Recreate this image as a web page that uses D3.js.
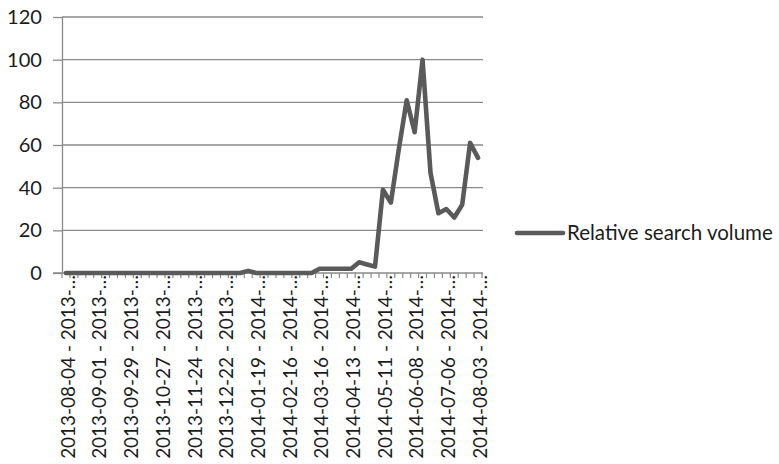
<!DOCTYPE html>
<html>
<head>
<meta charset="utf-8">
<script src="https://cdn.jsdelivr.net/npm/d3@7"></script>
<style>
  html, body { margin: 0; padding: 0; background: #ffffff; }
  svg { display: block; }
  text { font-family: Lato, "Open Sans", sans-serif; fill: #1c1c1c; }
</style>
</head>
<body>
<svg id="chart" width="779" height="464"></svg>
<script>
// Weekly periods (Sunday to Saturday)
const weeks = [
  "2013-08-04 - 2013-08-10", "2013-08-11 - 2013-08-17", "2013-08-18 - 2013-08-24", "2013-08-25 - 2013-08-31",
  "2013-09-01 - 2013-09-07", "2013-09-08 - 2013-09-14", "2013-09-15 - 2013-09-21", "2013-09-22 - 2013-09-28",
  "2013-09-29 - 2013-10-05", "2013-10-06 - 2013-10-12", "2013-10-13 - 2013-10-19", "2013-10-20 - 2013-10-26",
  "2013-10-27 - 2013-11-02", "2013-11-03 - 2013-11-09", "2013-11-10 - 2013-11-16", "2013-11-17 - 2013-11-23",
  "2013-11-24 - 2013-11-30", "2013-12-01 - 2013-12-07", "2013-12-08 - 2013-12-14", "2013-12-15 - 2013-12-21",
  "2013-12-22 - 2013-12-28", "2013-12-29 - 2014-01-04", "2014-01-05 - 2014-01-11", "2014-01-12 - 2014-01-18",
  "2014-01-19 - 2014-01-25", "2014-01-26 - 2014-02-01", "2014-02-02 - 2014-02-08", "2014-02-09 - 2014-02-15",
  "2014-02-16 - 2014-02-22", "2014-02-23 - 2014-03-01", "2014-03-02 - 2014-03-08", "2014-03-09 - 2014-03-15",
  "2014-03-16 - 2014-03-22", "2014-03-23 - 2014-03-29", "2014-03-30 - 2014-04-05", "2014-04-06 - 2014-04-12",
  "2014-04-13 - 2014-04-19", "2014-04-20 - 2014-04-26", "2014-04-27 - 2014-05-03", "2014-05-04 - 2014-05-10",
  "2014-05-11 - 2014-05-17", "2014-05-18 - 2014-05-24", "2014-05-25 - 2014-05-31", "2014-06-01 - 2014-06-07",
  "2014-06-08 - 2014-06-14", "2014-06-15 - 2014-06-21", "2014-06-22 - 2014-06-28", "2014-06-29 - 2014-07-05",
  "2014-07-06 - 2014-07-12", "2014-07-13 - 2014-07-19", "2014-07-20 - 2014-07-26", "2014-07-27 - 2014-08-02",
  "2014-08-03 - 2014-08-09"
];

// Relative search volume per week (peak = 100)
const searchVolume = [
  0, 0, 0, 0, 0, 0, 0, 0, 0, 0, 0, 0, 0, 0, 0, 0,
  0, 0, 0, 0, 0, 0, 0, 1, 0, 0, 0, 0, 0, 0, 0, 0,
  2, 2, 2, 2, 2, 5, 4, 3, 39, 33, 58, 81, 66, 100, 47, 28,
  30, 26, 32, 61, 54
];

const yTicks = [0, 20, 40, 60, 80, 100, 120];
const labelEvery = 4;
const seriesName = "Relative search volume";

const margin = { left: 62, right: 297, top: 17, bottom: 191 };
const W = 779, H = 464;
const svg = d3.select("#chart");

const x = d3.scaleBand().domain(weeks).range([margin.left, W - margin.right]).paddingInner(0).paddingOuter(0);
const y = d3.scaleLinear().domain([0, 120]).range([H - margin.bottom, margin.top]);

const gridColor = "#8a8a8a";
const lineColor = "#5a5a5a";

// Fit a font size so that a sample string spans a given width
function fitSize(sample, targetWidth) {
  const t = svg.append("text").attr("font-size", 20).text(sample);
  const w = t.node().getComputedTextLength();
  t.remove();
  return 20 * targetWidth / w;
}
const xLabelSize = fitSize("2013-08-04 - 2013-\u2026", 184);
const yLabelSize = fitSize("120", 35);
const legendSize = fitSize(seriesName, 206);

// Horizontal gridlines
svg.append("g")
  .selectAll("line")
  .data(yTicks.filter(d => d > 0))
  .join("line")
  .attr("x1", margin.left).attr("x2", W - margin.right + 1)
  .attr("y1", d => y(d)).attr("y2", d => y(d))
  .attr("stroke", gridColor).attr("stroke-width", 1.3);

// Y axis
const yAxis = svg.append("g")
  .attr("transform", `translate(${margin.left},0)`)
  .call(d3.axisLeft(y).tickValues(yTicks).tickSize(9).tickSizeOuter(0).tickPadding(11));
yAxis.select(".domain").attr("stroke", gridColor).attr("stroke-width", 1.3);
yAxis.selectAll(".tick line").attr("stroke", gridColor).attr("stroke-width", 1.3);
yAxis.selectAll(".tick text")
  .attr("font-size", yLabelSize)
  .attr("font-family", "Lato, 'Open Sans', sans-serif")
  .attr("fill", "#1c1c1c");

// X axis: tick marks on every week boundary
const step = x.step();
const xBase = y(0);
const xAxis = svg.append("g").attr("transform", `translate(0,${xBase})`);
xAxis.append("line")
  .attr("x1", margin.left - 9).attr("x2", W - margin.right + 1)
  .attr("stroke", gridColor).attr("stroke-width", 1.3);
xAxis.selectAll("line.wk")
  .data(weeks.concat(["_end"]))
  .join("line")
  .attr("class", "wk")
  .attr("x1", (d, i) => margin.left + i * step)
  .attr("x2", (d, i) => margin.left + i * step)
  .attr("y1", 0).attr("y2", 5)
  .attr("stroke", gridColor).attr("stroke-width", 1.2);

// Rotated category labels, every fourth week, truncated
const labelWeeks = weeks.filter((d, i) => i % labelEvery === 0);
svg.append("g")
  .selectAll("text")
  .data(labelWeeks)
  .join("text")
  .attr("transform", d => `translate(${x(d) + x.bandwidth() / 2 + 2},${xBase + 2}) rotate(-90)`)
  .attr("text-anchor", "end")
  .attr("dy", "0.36em")
  .attr("font-size", xLabelSize)
  .text(d => d.slice(0, 18) + "\u2026");

// Series line
const line = d3.line()
  .x((d, i) => x(weeks[i]) + x.bandwidth() / 2)
  .y(d => y(d));
svg.append("path")
  .datum(searchVolume)
  .attr("d", line)
  .attr("fill", "none")
  .attr("stroke", lineColor)
  .attr("stroke-width", 4.6)
  .attr("stroke-linejoin", "round")
  .attr("stroke-linecap", "round");

// Legend
const legend = svg.append("g").attr("transform", "translate(517,233)");
legend.append("line")
  .attr("x1", 0).attr("x2", 46)
  .attr("stroke", lineColor).attr("stroke-width", 4.6).attr("stroke-linecap", "round");
legend.append("text")
  .attr("x", 50).attr("dy", "0.36em")
  .attr("font-size", legendSize)
  .text(seriesName);
</script>
</body>
</html>
